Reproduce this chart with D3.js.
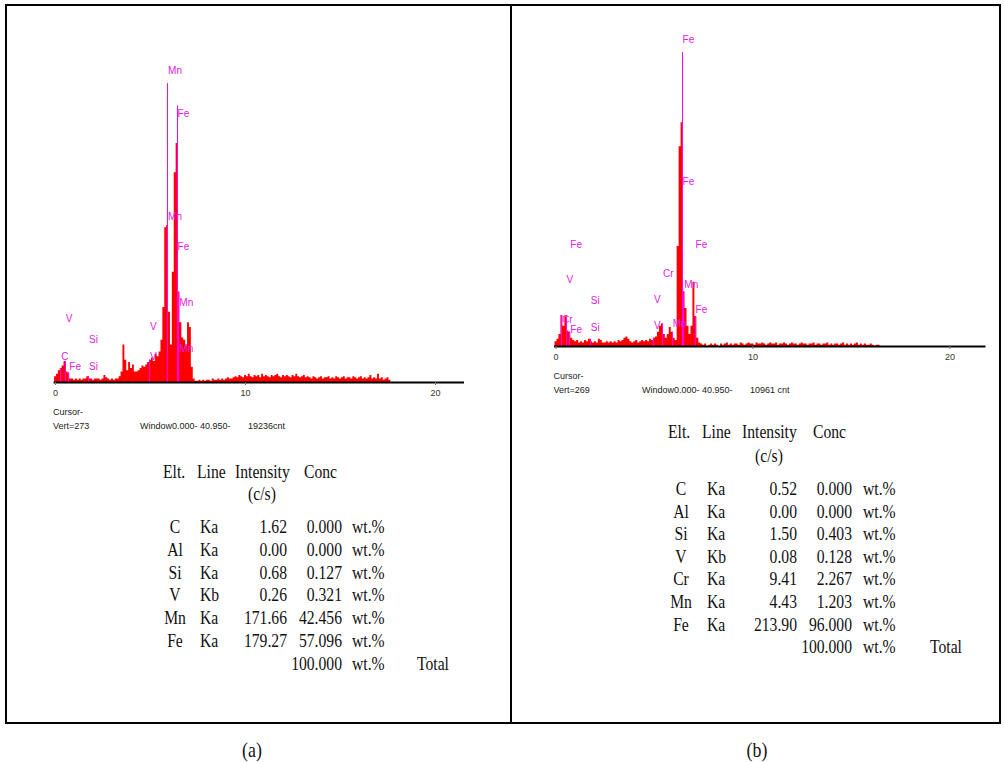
<!DOCTYPE html>
<html>
<head>
<meta charset="utf-8">
<script src="https://cdnjs.cloudflare.com/ajax/libs/d3/7.8.5/d3.min.js"></script>
<style>
  body { margin: 0; background: #fff; }
  .spec text { font-family: "Liberation Sans", Arial, sans-serif; }
  .tbl text { font-family: "Liberation Serif", "Times New Roman", serif; font-size: 18px; fill: #111; }
</style>
</head>
<body>
<div id="figure"></div>
<script>
// EDS spectra of two samples, (a) and (b), each with its quantification table below

var svgWidth = 1004;
var svgHeight = 762;

// spectrum arrays are counts per 0.1 keV channel, first channel at 0 keV
var binKeV = 0.1;

//******************** sample (a) ********************/
var countsA = [5,7,10,12,14,18,9,8,3,3,
  2,3,2,3,2,3,3,5,3,3,
  2,3,3,3,2,3,6,4,3,2,
  3,2,3,3,5,9,32,19,10,17,
  12,15,9,9,10,12,14,13,15,17,
  19,21,18,24,22,26,36,64,132,134,
  60,32,94,179,204,77,51,38,36,31,
  51,47,13,3,
  1,1,2,1,2,1,2,2,1,3,2,2,3,2,3,2,3,4,3,3,4,
  5,4,6,5,4,6,5,7,5,4,6,5,6,4,7,5,6,5,4,6,5,6,7,5,4,6,5,6,5,4,6,5,7,5,4,5,6,4,5,
  4,3,5,4,3,4,5,3,4,4,5,3,4,3,5,4,3,4,5,3,4,4,3,5,4,3,4,5,3,4,3,4,6,3,4,3,7,3,4,2,3,4,2];
var markerElA  = ["Mn", "Fe", "Mn", "Fe", "Mn", "Mn", "V", "V", "V", "Si", "Si", "C", "Fe"];
var markerKeVA = [5.90, 6.40, 5.90, 6.40, 6.49, 6.49, 4.95, 4.95, 0.51, 1.74, 1.74, 0.28, 0.70];
var markerCntA = [263, 226, 138, 113, 65, 26, 44, 19, 51, 33, 10, 19, 10];
var markerTopA = [255, 236, 0, 0, 0, 0, 0, 0, 0, 0, 0, 0, 0]; // 0 = line only inside the spectrum
var vertA = 273;
var winCntA = "19236cnt";
var eltA    = ["C", "Al", "Si", "V", "Mn", "Fe"];
var lineA   = ["Ka", "Ka", "Ka", "Kb", "Ka", "Ka"];
var intensA = ["1.62", "0.00", "0.68", "0.26", "171.66", "179.27"];
var concA   = ["0.000", "0.000", "0.127", "0.321", "42.456", "57.096"];

//******************** sample (b) ********************/
var countsB = [4,6,10,26,17,25,13,12,7,5,
  4,5,3,4,3,5,4,6,4,3,
  4,3,6,5,3,3,4,3,4,3,
  4,3,5,4,5,7,8,6,4,3,
  4,5,3,4,5,4,5,4,6,5,
  7,8,12,17,19,10,7,10,16,12,
  7,5,84,168,188,46,32,17,10,17,
  54,25,7,3,
  2,1,2,0,1,2,1,2,1,0, 2,1,2,3,1,2,1,2,2,1, 3,2,1,2,3,2,2,1,3,2,
  2,3,2,1,2,3,2,2,3,1, 2,2,3,2,1,2,3,2,2,1, 2,3,2,2,1,2,2,3,1,2,
  2,1,2,2,3,1,2,1,2,2, 1,2,3,1,2,1,2,1,2,3, 1,2,1,2,1,1,2,1,0,1, 1,0];
var markerElB  = ["Fe", "Fe", "Fe", "Fe", "Mn", "Mn", "Cr", "V", "V", "Si", "Si", "Fe", "V", "Cr", "Fe"];
var markerKeVB = [6.40, 6.40, 7.06, 7.06, 6.49, 5.90, 5.41, 4.95, 4.95, 1.74, 1.74, 0.70, 0.51, 0.28, 0.70];
var markerCntB = [255, 135, 82, 28, 49, 16, 58, 36, 14, 35, 13, 82, 53, 19, 11];
var markerTopB = [247, 0, 0, 0, 0, 0, 0, 0, 0, 0, 0, 0, 0, 0, 0];
var vertB = 269;
var winCntB = "10961 cnt";
var eltB    = ["C", "Al", "Si", "V", "Cr", "Mn", "Fe"];
var lineB   = ["Ka", "Ka", "Ka", "Kb", "Ka", "Ka", "Ka"];
var intensB = ["0.52", "0.00", "1.50", "0.08", "9.41", "4.43", "213.90"];
var concB   = ["0.000", "0.000", "0.403", "0.128", "2.267", "1.203", "96.000"];

var totalConc = "100.000";
var keVTicks = [0, 10, 20];
var captions = ["(a)", "(b)"];

var svg = d3.select("#figure")
  .append("svg")
  .attr("width", svgWidth)
  .attr("height", svgHeight);

// frame around both panels
svg.append("rect")
  .attr("x", 6).attr("y", 5)
  .attr("width", 994).attr("height", 718)
  .attr("fill", "none").attr("stroke", "#000").attr("stroke-width", 2);
svg.append("line")
  .attr("x1", 511).attr("x2", 511).attr("y1", 5).attr("y2", 723)
  .attr("stroke", "#000").attr("stroke-width", 2);

//**********************************************************************/
// draws one spectrum: red counts, magenta KLM markers, energy axis, cursor text
function drawSpectrum(p) {
  var g = svg.append("g").attr("class", "spec");

  var x = d3.scaleLinear().domain([-0.1, p.maxKeV]).range([p.x0 - 0.1 * p.pxKeV, p.x0 + p.maxKeV * p.pxKeV]);
  var y = d3.scaleLinear().domain([0, p.vert]).range([p.base, p.base - 320]);

  // spectrum as a stepped area, each channel centred on its energy
  var pts = p.counts.concat([0]);
  var area = d3.area()
    .x(function(d, i) { return x(i * binKeV - binKeV / 2); })
    .y0(y(0))
    .y1(function(d) { return y(d); })
    .curve(d3.curveStepAfter);
  g.append("path").datum(pts)
    .attr("d", area)
    .attr("fill", "#ff0000");

  var mk = p.mkEl.map(function(el, i) {
    return { el: el, e: p.mkKeV[i], h: p.mkCnt[i], top: p.mkTop[i] };
  });

  // marker lines: the tall ones reach up to their label, the others stay inside the red
  g.selectAll(".mkline").data(mk).enter().append("line")
    .attr("x1", d => Math.round(x(d.e)) + 0.5)
    .attr("x2", d => Math.round(x(d.e)) + 0.5)
    .attr("y1", y(0))
    .attr("y2", d => y(d.top > 0 ? d.top : p.counts[Math.round(d.e / binKeV)]))
    .attr("stroke", "#ff00ff")
    .attr("stroke-width", 1);

  g.selectAll(".mklabel").data(mk).enter().append("text")
    .attr("x", d => x(d.e) + 1)
    .attr("y", d => y(d.h))
    .attr("font-size", "10px")
    .attr("fill", "#e020e0")
    .text(d => d.el);

  // energy axis (keV)
  var axis = g.append("g")
    .attr("transform", `translate(0, ${p.base})`)
    .call(d3.axisBottom(x).tickValues(keVTicks).tickSize(3).tickSizeOuter(0).tickPadding(5));
  axis.select(".domain").attr("stroke", "#000").attr("stroke-width", 2);
  axis.selectAll(".tick line").attr("stroke", "#777");
  axis.selectAll(".tick text")
    .attr("font-family", "Liberation Sans, Arial, sans-serif")
    .attr("font-size", "9px")
    .attr("fill", "#333");

  g.append("text").attr("x", p.x0 - 2).attr("y", p.base + 33)
    .attr("font-size", "9px").attr("fill", "#222").text("Cursor-");
  g.append("text").attr("x", p.x0 - 2).attr("y", p.base + 47)
    .attr("font-size", "9px").attr("fill", "#222").text("Vert=" + p.vert);
  g.append("text").attr("x", p.winX).attr("y", p.base + 47)
    .attr("font-size", "9px").attr("fill", "#222").text("Window0.000- 40.950-");
  g.append("text").attr("x", p.winX + 108).attr("y", p.base + 47)
    .attr("font-size", "9px").attr("fill", "#222").text(p.winCnt);
}

//**********************************************************************/
// quantification table, text slightly condensed like the original printout
function drawTable(t) {
  var g = svg.append("g").attr("class", "tbl");
  function put(str, x, y, anchor) {
    g.append("text")
      .attr("transform", `translate(${x}, ${y}) scale(0.87, 1)`)
      .attr("text-anchor", anchor)
      .text(str);
  }
  put("Elt.", t.eltH, t.head, "start");
  put("Line", t.lineH, t.head, "start");
  put("Intensity", t.intH, t.head, "start");
  put("Conc", t.concH, t.head, "start");
  put("(c/s)", t.csC, t.head + t.csGap, "middle");

  t.elt.forEach(function(el, i) {
    var yy = t.row0 + i * t.step;
    put(el, t.eltC, yy, "middle");
    put(t.line[i], t.lineL, yy, "start");
    put(t.intens[i], t.intR, yy, "end");
    put(t.conc[i], t.concR, yy, "end");
    put("wt.%", t.wtL, yy, "start");
  });
  var yt = t.row0 + t.elt.length * t.step;
  put(totalConc, t.concR, yt, "end");
  put("wt.%", t.wtL, yt, "start");
  put("Total", t.totL, yt, "start");
}

drawSpectrum({ counts: countsA, mkEl: markerElA, mkKeV: markerKeVA, mkCnt: markerCntA, mkTop: markerTopA,
  vert: vertA, winCnt: winCntA, x0: 55, pxKeV: 19.0, maxKeV: 21.5, base: 382, winX: 140 });
drawSpectrum({ counts: countsB, mkEl: markerElB, mkKeV: markerKeVB, mkCnt: markerCntB, mkTop: markerTopB,
  vert: vertB, winCnt: winCntB, x0: 555.5, pxKeV: 19.7, maxKeV: 21.8, base: 346, winX: 642 });

drawTable({ elt: eltA, line: lineA, intens: intensA, conc: concA,
  head: 478, csGap: 22, row0: 533, step: 22.8,
  eltH: 163, lineH: 197, intH: 235, concH: 304, csC: 262,
  eltC: 175, lineL: 200, intR: 287, concR: 342, wtL: 352, totL: 417 });
drawTable({ elt: eltB, line: lineB, intens: intensB, conc: concB,
  head: 438, csGap: 24, row0: 495, step: 22.6,
  eltH: 668, lineH: 702, intH: 742, concH: 813, csC: 769,
  eltC: 681, lineL: 707, intR: 797, concR: 852, wtL: 863, totL: 930 });

// panel captions under the frame
svg.selectAll(".caption").data(captions).enter().append("text")
  .attr("transform", (d, i) => `translate(${i === 0 ? 252 : 757}, 757) scale(0.85, 1)`)
  .attr("text-anchor", "middle")
  .attr("font-family", "Liberation Serif, Times New Roman, serif")
  .attr("font-size", "21px")
  .attr("fill", "#111")
  .text(d => d);
</script>
</body>
</html>
